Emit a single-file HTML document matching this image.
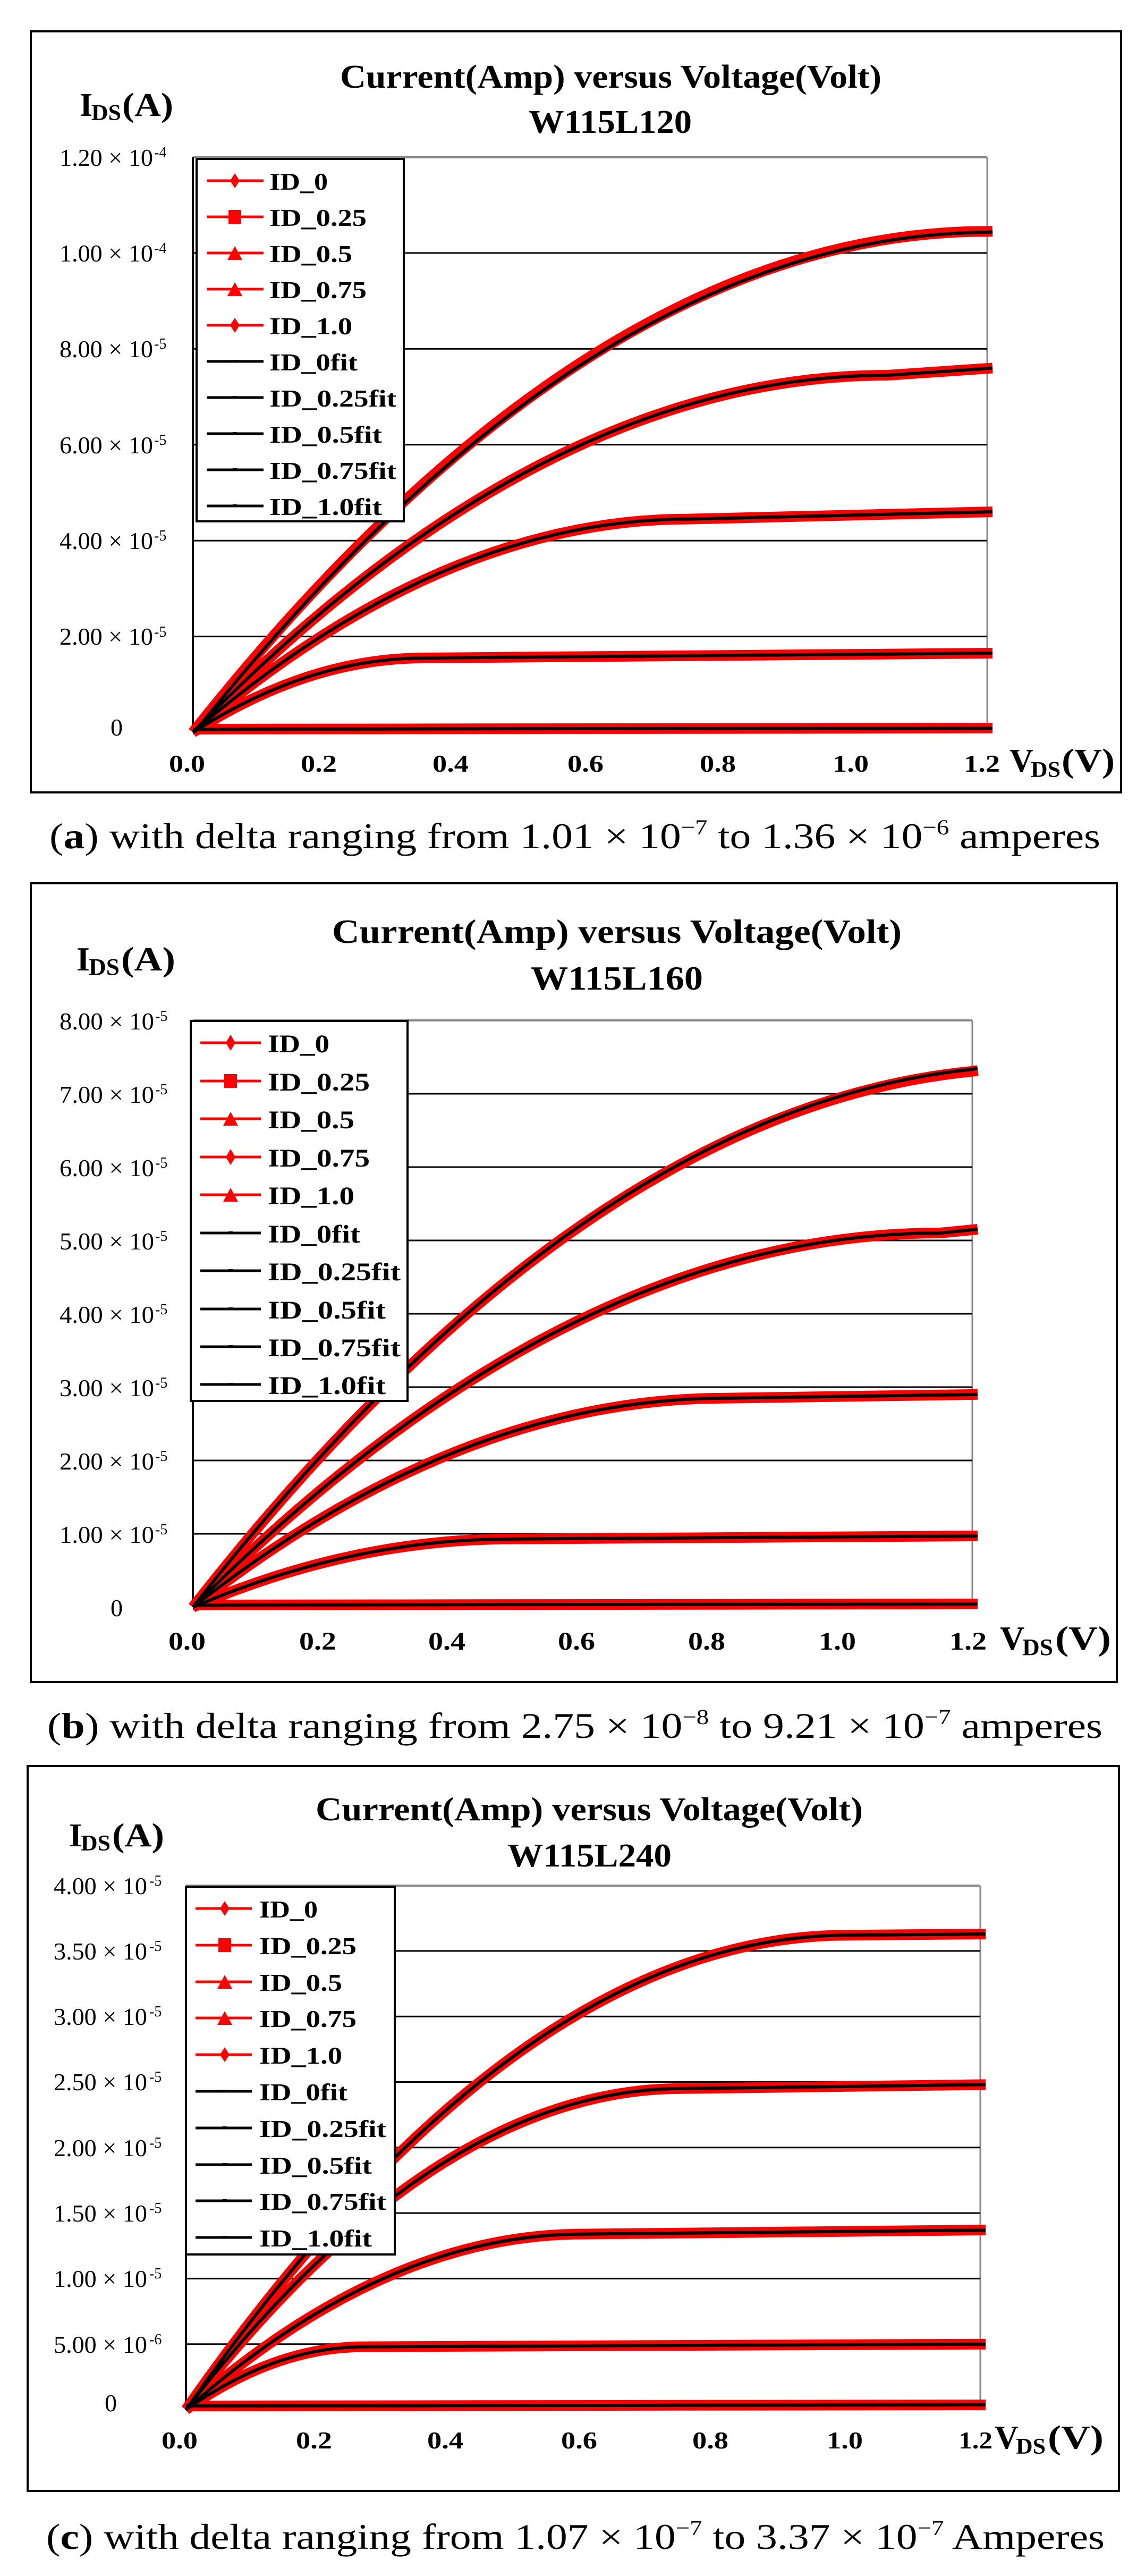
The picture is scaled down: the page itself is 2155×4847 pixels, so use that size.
<!DOCTYPE html>
<html><head><meta charset="utf-8"><style>
html,body{margin:0;padding:0;background:#fff;}
svg{display:block;}
.t{font-family:"Liberation Serif",serif;font-weight:bold;fill:#000;}
.n{font-family:"Liberation Serif",serif;fill:#000;}
.r{fill:none;stroke:#f00;stroke-width:20;stroke-linejoin:round;}
.k{fill:none;stroke:#000;stroke-width:6;}
.g{stroke:#000;stroke-width:3;}
</style></head><body>
<svg width="2155" height="4847" viewBox="0 0 2155 4847" xmlns="http://www.w3.org/2000/svg">
<rect width="2155" height="4847" fill="#fff"/>

<!-- ================= PANEL A ================= -->
<rect x="58" y="59" width="2052" height="1432" fill="none" stroke="#000" stroke-width="4"/>
<text class="t" x="640" y="165" font-size="62" textLength="1019" lengthAdjust="spacingAndGlyphs">Current(Amp) versus Voltage(Volt)</text>
<text class="t" x="995" y="250" font-size="62" textLength="307" lengthAdjust="spacingAndGlyphs">W115L120</text>
<text class="t" x="150" y="218" font-size="62">I</text><text class="t" x="172" y="226" font-size="42" textLength="56" lengthAdjust="spacingAndGlyphs">DS</text><text class="t" x="230" y="218" font-size="62" textLength="96" lengthAdjust="spacingAndGlyphs">(A)</text>
<!-- plot frame -->
<line x1="363" y1="296" x2="1858" y2="296" stroke="#888" stroke-width="4"/>
<line x1="1858" y1="296" x2="1858" y2="1378" stroke="#888" stroke-width="3"/>
<line x1="363" y1="296" x2="363" y2="1378" stroke="#000" stroke-width="4"/>
<g class="g"><line x1="363" y1="1197.6" x2="1858" y2="1197.6"/><line x1="363" y1="1017.2" x2="1858" y2="1017.2"/><line x1="363" y1="836.8" x2="1858" y2="836.8"/><line x1="363" y1="656.4" x2="1858" y2="656.4"/><line x1="363" y1="476" x2="1858" y2="476"/></g>
<!-- y labels -->
<g class="n" font-size="46">
<text x="112" y="312" textLength="176" lengthAdjust="spacingAndGlyphs">1.20 × 10</text><text x="290" y="296" font-size="28">-4</text>
<text x="112" y="492" textLength="176" lengthAdjust="spacingAndGlyphs">1.00 × 10</text><text x="290" y="476" font-size="28">-4</text>
<text x="112" y="672" textLength="176" lengthAdjust="spacingAndGlyphs">8.00 × 10</text><text x="290" y="656" font-size="28">-5</text>
<text x="112" y="853" textLength="176" lengthAdjust="spacingAndGlyphs">6.00 × 10</text><text x="290" y="837" font-size="28">-5</text>
<text x="112" y="1033" textLength="176" lengthAdjust="spacingAndGlyphs">4.00 × 10</text><text x="290" y="1017" font-size="28">-5</text>
<text x="112" y="1213" textLength="176" lengthAdjust="spacingAndGlyphs">2.00 × 10</text><text x="290" y="1198" font-size="28">-5</text>
<text x="208" y="1384">0</text>
</g>
<!-- curves -->
<path class="r" d="M363 1372 L1868 1370"/>
<path class="r" d="M363 1378 Q581 1238 799 1238 L1868 1229"/>
<path class="r" d="M363 1378 Q830 976.6 1297 976.6 L1868 963"/>
<path class="r" d="M363 1378 Q1017 706 1671 706 L1868 692.5"/>
<path class="r" d="M363 1378 Q1110.5 435.4 1858 435.4 L1868 435"/>
<path class="k" d="M363 1372 L1868 1370"/>
<path class="k" d="M363 1378 Q581 1238 799 1238 L1868 1229"/>
<path class="k" d="M363 1378 Q830 976.6 1297 976.6 L1868 963"/>
<path class="k" d="M363 1378 Q1017 706 1671 706 L1868 692.5"/>
<path class="k" d="M366 1378 Q1113 440 1860 437 L1868 436"/>
<!-- legend -->
<rect x="370" y="299" width="390" height="682" fill="#fff" stroke="#000" stroke-width="4"/>
<g stroke-width="5"><line x1="389" y1="340" x2="496" y2="340" stroke="#f00"/><line x1="389" y1="408" x2="496" y2="408" stroke="#f00"/><line x1="389" y1="476" x2="496" y2="476" stroke="#f00"/><line x1="389" y1="544" x2="496" y2="544" stroke="#f00"/><line x1="389" y1="612" x2="496" y2="612" stroke="#f00"/>
<line x1="389" y1="680" x2="496" y2="680" stroke="#000"/><line x1="389" y1="748" x2="496" y2="748" stroke="#000"/><line x1="389" y1="816" x2="496" y2="816" stroke="#000"/><line x1="389" y1="884" x2="496" y2="884" stroke="#000"/><line x1="389" y1="952" x2="496" y2="952" stroke="#000"/></g>
<g fill="#f00"><polygon points="442,326 451,340 442,354 433,340"/><rect x="430" y="395" width="24" height="26"/><polygon points="442,463 456,489 428,489"/><polygon points="442,531 456,557 428,557"/><polygon points="442,598 451,612 442,626 433,612"/></g>
<g fill="#000"><rect x="438" y="677" width="8" height="5"/><rect x="438" y="745" width="8" height="5"/><rect x="438" y="813" width="8" height="5"/><rect x="438" y="881" width="8" height="5"/><rect x="438" y="949" width="8" height="5"/></g>
<g class="t" font-size="46">
<text x="507" y="357" textLength="110" lengthAdjust="spacingAndGlyphs">ID_0</text>
<text x="507" y="425" textLength="183" lengthAdjust="spacingAndGlyphs">ID_0.25</text>
<text x="507" y="493" textLength="156" lengthAdjust="spacingAndGlyphs">ID_0.5</text>
<text x="507" y="561" textLength="183" lengthAdjust="spacingAndGlyphs">ID_0.75</text>
<text x="507" y="629" textLength="156" lengthAdjust="spacingAndGlyphs">ID_1.0</text>
<text x="507" y="697" textLength="166" lengthAdjust="spacingAndGlyphs">ID_0fit</text>
<text x="507" y="765" textLength="239" lengthAdjust="spacingAndGlyphs">ID_0.25fit</text>
<text x="507" y="833" textLength="212" lengthAdjust="spacingAndGlyphs">ID_0.5fit</text>
<text x="507" y="901" textLength="239" lengthAdjust="spacingAndGlyphs">ID_0.75fit</text>
<text x="507" y="969" textLength="212" lengthAdjust="spacingAndGlyphs">ID_1.0fit</text>
</g>
<!-- x labels -->
<g class="t" font-size="46" text-anchor="middle">
<text x="352" y="1452" textLength="68" lengthAdjust="spacingAndGlyphs">0.0</text>
<text x="600" y="1452" textLength="68" lengthAdjust="spacingAndGlyphs">0.2</text>
<text x="848" y="1452" textLength="68" lengthAdjust="spacingAndGlyphs">0.4</text>
<text x="1102" y="1452" textLength="68" lengthAdjust="spacingAndGlyphs">0.6</text>
<text x="1351" y="1452" textLength="68" lengthAdjust="spacingAndGlyphs">0.8</text>
<text x="1601" y="1452" textLength="68" lengthAdjust="spacingAndGlyphs">1.0</text>
<text x="1848" y="1452" textLength="68" lengthAdjust="spacingAndGlyphs">1.2</text>
</g>
<text class="t" x="1900" y="1452" font-size="62">V</text><text class="t" x="1940" y="1462" font-size="42" textLength="56" lengthAdjust="spacingAndGlyphs">DS</text><text class="t" x="1998" y="1452" font-size="62" textLength="100" lengthAdjust="spacingAndGlyphs">(V)</text>
<text class="n" x="93" y="1596" font-size="68" textLength="1978" lengthAdjust="spacingAndGlyphs">(<tspan font-weight="bold">a</tspan>) with delta ranging from 1.01 × 10<tspan font-size="40" dy="-26">−7</tspan><tspan dy="26"> to 1.36 × 10</tspan><tspan font-size="40" dy="-26">−6</tspan><tspan dy="26"> amperes</tspan></text>

<!-- ================= PANEL B ================= -->
<rect x="58" y="1662" width="2044" height="1503" fill="none" stroke="#000" stroke-width="4"/>
<text class="t" x="625" y="1774" font-size="64" textLength="1072" lengthAdjust="spacingAndGlyphs">Current(Amp) versus Voltage(Volt)</text>
<text class="t" x="999" y="1862" font-size="64" textLength="324" lengthAdjust="spacingAndGlyphs">W115L160</text>
<text class="t" x="144" y="1826" font-size="64">I</text><text class="t" x="167" y="1834" font-size="44" textLength="58" lengthAdjust="spacingAndGlyphs">DS</text><text class="t" x="228" y="1826" font-size="64" textLength="102" lengthAdjust="spacingAndGlyphs">(A)</text>
<line x1="363" y1="1920" x2="1830" y2="1920" stroke="#888" stroke-width="4"/>
<line x1="1830" y1="1920" x2="1830" y2="3024" stroke="#888" stroke-width="3"/>
<line x1="363" y1="1920" x2="363" y2="3024" stroke="#000" stroke-width="4"/>
<g class="g"><line x1="363" y1="2886" x2="1830" y2="2886"/><line x1="363" y1="2748" x2="1830" y2="2748"/><line x1="363" y1="2610" x2="1830" y2="2610"/><line x1="363" y1="2472" x2="1830" y2="2472"/><line x1="363" y1="2334" x2="1830" y2="2334"/><line x1="363" y1="2196" x2="1830" y2="2196"/><line x1="363" y1="2058" x2="1830" y2="2058"/></g>
<g class="n" font-size="46">
<text x="112" y="1937" textLength="178" lengthAdjust="spacingAndGlyphs">8.00 × 10</text><text x="292" y="1921" font-size="28">-5</text>
<text x="112" y="2075" textLength="178" lengthAdjust="spacingAndGlyphs">7.00 × 10</text><text x="292" y="2059" font-size="28">-5</text>
<text x="112" y="2213" textLength="178" lengthAdjust="spacingAndGlyphs">6.00 × 10</text><text x="292" y="2197" font-size="28">-5</text>
<text x="112" y="2351" textLength="178" lengthAdjust="spacingAndGlyphs">5.00 × 10</text><text x="292" y="2335" font-size="28">-5</text>
<text x="112" y="2489" textLength="178" lengthAdjust="spacingAndGlyphs">4.00 × 10</text><text x="292" y="2473" font-size="28">-5</text>
<text x="112" y="2627" textLength="178" lengthAdjust="spacingAndGlyphs">3.00 × 10</text><text x="292" y="2611" font-size="28">-5</text>
<text x="112" y="2765" textLength="178" lengthAdjust="spacingAndGlyphs">2.00 × 10</text><text x="292" y="2749" font-size="28">-5</text>
<text x="112" y="2903" textLength="178" lengthAdjust="spacingAndGlyphs">1.00 × 10</text><text x="292" y="2887" font-size="28">-5</text>
<text x="208" y="3041">0</text>
</g>
<path class="r" d="M363 3020 L1840 3018"/>
<path class="r" d="M363 3024 Q662.5 2895.7 962 2895.7 L1840 2890"/>
<path class="r" d="M363 3024 Q864 2630.7 1365.5 2630.7 L1840 2623.8"/>
<path class="r" d="M363 3024 Q1066 2320 1769 2320 L1840 2313"/>
<path class="r" d="M363 3024 Q1096.5 2087.7 1830 2015.8 L1840 2014"/>
<path class="k" d="M363 3020 L1840 3018"/>
<path class="k" d="M363 3024 Q662.5 2895.7 962 2895.7 L1840 2890"/>
<path class="k" d="M363 3024 Q864 2630.7 1365.5 2630.7 L1840 2623.8"/>
<path class="k" d="M363 3024 Q1066 2320 1769 2320 L1840 2313"/>
<path class="k" d="M363 3024 Q1096.5 2087.7 1830 2012 L1840 2010"/>
<rect x="359" y="1921" width="408" height="715" fill="#fff" stroke="#000" stroke-width="4"/>
<g stroke-width="5"><line x1="377" y1="1962" x2="491" y2="1962" stroke="#f00"/><line x1="377" y1="2034" x2="491" y2="2034" stroke="#f00"/><line x1="377" y1="2105" x2="491" y2="2105" stroke="#f00"/><line x1="377" y1="2177" x2="491" y2="2177" stroke="#f00"/><line x1="377" y1="2248" x2="491" y2="2248" stroke="#f00"/>
<line x1="377" y1="2320" x2="491" y2="2320" stroke="#000"/><line x1="377" y1="2391" x2="491" y2="2391" stroke="#000"/><line x1="377" y1="2463" x2="491" y2="2463" stroke="#000"/><line x1="377" y1="2534" x2="491" y2="2534" stroke="#000"/><line x1="377" y1="2605" x2="491" y2="2605" stroke="#000"/></g>
<g fill="#f00"><polygon points="434,1947 443,1962 434,1977 425,1962"/><rect x="422" y="2021" width="24" height="26"/><polygon points="434,2092 448,2118 420,2118"/><polygon points="434,2162 443,2177 434,2192 425,2177"/><polygon points="434,2235 448,2261 420,2261"/></g>
<g fill="#000"><rect x="430" y="2317" width="8" height="5"/><rect x="430" y="2388" width="8" height="5"/><rect x="430" y="2460" width="8" height="5"/><rect x="430" y="2531" width="8" height="5"/><rect x="430" y="2602" width="8" height="5"/></g>
<g class="t" font-size="48">
<text x="504" y="1980" textLength="116" lengthAdjust="spacingAndGlyphs">ID_0</text>
<text x="504" y="2052" textLength="192" lengthAdjust="spacingAndGlyphs">ID_0.25</text>
<text x="504" y="2123" textLength="163" lengthAdjust="spacingAndGlyphs">ID_0.5</text>
<text x="504" y="2195" textLength="192" lengthAdjust="spacingAndGlyphs">ID_0.75</text>
<text x="504" y="2266" textLength="163" lengthAdjust="spacingAndGlyphs">ID_1.0</text>
<text x="504" y="2338" textLength="174" lengthAdjust="spacingAndGlyphs">ID_0fit</text>
<text x="504" y="2409" textLength="250" lengthAdjust="spacingAndGlyphs">ID_0.25fit</text>
<text x="504" y="2481" textLength="222" lengthAdjust="spacingAndGlyphs">ID_0.5fit</text>
<text x="504" y="2552" textLength="250" lengthAdjust="spacingAndGlyphs">ID_0.75fit</text>
<text x="504" y="2623" textLength="222" lengthAdjust="spacingAndGlyphs">ID_1.0fit</text>
</g>
<g class="t" font-size="48" text-anchor="middle">
<text x="352" y="3104" textLength="70" lengthAdjust="spacingAndGlyphs">0.0</text>
<text x="598" y="3104" textLength="70" lengthAdjust="spacingAndGlyphs">0.2</text>
<text x="841" y="3104" textLength="70" lengthAdjust="spacingAndGlyphs">0.4</text>
<text x="1085" y="3104" textLength="70" lengthAdjust="spacingAndGlyphs">0.6</text>
<text x="1330" y="3104" textLength="70" lengthAdjust="spacingAndGlyphs">0.8</text>
<text x="1576" y="3104" textLength="70" lengthAdjust="spacingAndGlyphs">1.0</text>
<text x="1822" y="3104" textLength="70" lengthAdjust="spacingAndGlyphs">1.2</text>
</g>
<text class="t" x="1882" y="3104" font-size="64">V</text><text class="t" x="1924" y="3114" font-size="44" textLength="58" lengthAdjust="spacingAndGlyphs">DS</text><text class="t" x="1986" y="3104" font-size="64" textLength="105" lengthAdjust="spacingAndGlyphs">(V)</text>
<text class="n" x="89" y="3270" font-size="68" textLength="1986" lengthAdjust="spacingAndGlyphs">(<tspan font-weight="bold">b</tspan>) with delta ranging from 2.75 × 10<tspan font-size="40" dy="-26">−8</tspan><tspan dy="26"> to 9.21 × 10</tspan><tspan font-size="40" dy="-26">−7</tspan><tspan dy="26"> amperes</tspan></text>

<!-- ================= PANEL C ================= -->
<rect x="52" y="3323" width="2054" height="1364" fill="none" stroke="#000" stroke-width="4"/>
<text class="t" x="594" y="3425" font-size="62" textLength="1030" lengthAdjust="spacingAndGlyphs">Current(Amp) versus Voltage(Volt)</text>
<text class="t" x="955" y="3512" font-size="62" textLength="309" lengthAdjust="spacingAndGlyphs">W115L240</text>
<text class="t" x="130" y="3474" font-size="62">I</text><text class="t" x="152" y="3482" font-size="42" textLength="56" lengthAdjust="spacingAndGlyphs">DS</text><text class="t" x="211" y="3474" font-size="62" textLength="98" lengthAdjust="spacingAndGlyphs">(A)</text>
<line x1="350" y1="3548" x2="1845" y2="3548" stroke="#888" stroke-width="4"/>
<line x1="1845" y1="3548" x2="1845" y2="4534" stroke="#888" stroke-width="3"/>
<line x1="350" y1="3548" x2="350" y2="4534" stroke="#000" stroke-width="4"/>
<g class="g"><line x1="350" y1="4410.7" x2="1845" y2="4410.7"/><line x1="350" y1="4287.4" x2="1845" y2="4287.4"/><line x1="350" y1="4164.1" x2="1845" y2="4164.1"/><line x1="350" y1="4040.8" x2="1845" y2="4040.8"/><line x1="350" y1="3917.5" x2="1845" y2="3917.5"/><line x1="350" y1="3794.2" x2="1845" y2="3794.2"/><line x1="350" y1="3670.9" x2="1845" y2="3670.9"/></g>
<g class="n" font-size="46">
<text x="101" y="3564" textLength="176" lengthAdjust="spacingAndGlyphs">4.00 × 10</text><text x="281" y="3548" font-size="28">-5</text>
<text x="101" y="3687" textLength="176" lengthAdjust="spacingAndGlyphs">3.50 × 10</text><text x="281" y="3671" font-size="28">-5</text>
<text x="101" y="3810" textLength="176" lengthAdjust="spacingAndGlyphs">3.00 × 10</text><text x="281" y="3794" font-size="28">-5</text>
<text x="101" y="3933" textLength="176" lengthAdjust="spacingAndGlyphs">2.50 × 10</text><text x="281" y="3917" font-size="28">-5</text>
<text x="101" y="4057" textLength="176" lengthAdjust="spacingAndGlyphs">2.00 × 10</text><text x="281" y="4041" font-size="28">-5</text>
<text x="101" y="4180" textLength="176" lengthAdjust="spacingAndGlyphs">1.50 × 10</text><text x="281" y="4164" font-size="28">-5</text>
<text x="101" y="4303" textLength="176" lengthAdjust="spacingAndGlyphs">1.00 × 10</text><text x="281" y="4287" font-size="28">-5</text>
<text x="101" y="4427" textLength="176" lengthAdjust="spacingAndGlyphs">5.00 × 10</text><text x="281" y="4411" font-size="28">-6</text>
<text x="197" y="4537">0</text>
</g>
<path class="r" d="M350 4527 L1855 4525"/>
<path class="r" d="M350 4534 Q518 4415.6 686 4415.6 L1855 4410.7"/>
<path class="r" d="M350 4534 Q723.7 4203.6 1097.5 4203.6 L1855 4196"/>
<path class="r" d="M350 4534 Q817 3929.8 1284 3929.8 L1855 3922.4"/>
<path class="r" d="M350 4534 Q973 3641.3 1595.8 3641.3 L1855 3639"/>
<path class="k" d="M350 4527 L1855 4525"/>
<path class="k" d="M350 4534 Q518 4415.6 686 4415.6 L1855 4410.7"/>
<path class="k" d="M350 4534 Q723.7 4203.6 1097.5 4203.6 L1855 4196"/>
<path class="k" d="M350 4534 Q817 3929.8 1284 3929.8 L1855 3922.4"/>
<path class="k" d="M350 4534 Q973 3641.3 1595.8 3641.3 L1855 3639"/>
<rect x="350" y="3550" width="393" height="692" fill="#fff" stroke="#000" stroke-width="4"/>
<g stroke-width="5"><line x1="368" y1="3591" x2="474" y2="3591" stroke="#f00"/><line x1="368" y1="3660" x2="474" y2="3660" stroke="#f00"/><line x1="368" y1="3729" x2="474" y2="3729" stroke="#f00"/><line x1="368" y1="3797" x2="474" y2="3797" stroke="#f00"/><line x1="368" y1="3866" x2="474" y2="3866" stroke="#f00"/>
<line x1="368" y1="3935" x2="474" y2="3935" stroke="#000"/><line x1="368" y1="4004" x2="474" y2="4004" stroke="#000"/><line x1="368" y1="4073" x2="474" y2="4073" stroke="#000"/><line x1="368" y1="4141" x2="474" y2="4141" stroke="#000"/><line x1="368" y1="4210" x2="474" y2="4210" stroke="#000"/></g>
<g fill="#f00"><polygon points="423,3577 432,3591 423,3605 414,3591"/><rect x="411" y="3647" width="24" height="26"/><polygon points="423,3716 437,3742 409,3742"/><polygon points="423,3784 437,3810 409,3810"/><polygon points="423,3852 432,3866 423,3880 414,3866"/></g>
<g fill="#000"><rect x="419" y="3932" width="8" height="5"/><rect x="419" y="4001" width="8" height="5"/><rect x="419" y="4070" width="8" height="5"/><rect x="419" y="4138" width="8" height="5"/><rect x="419" y="4207" width="8" height="5"/></g>
<g class="t" font-size="46">
<text x="488" y="3608" textLength="110" lengthAdjust="spacingAndGlyphs">ID_0</text>
<text x="488" y="3677" textLength="183" lengthAdjust="spacingAndGlyphs">ID_0.25</text>
<text x="488" y="3746" textLength="156" lengthAdjust="spacingAndGlyphs">ID_0.5</text>
<text x="488" y="3814" textLength="183" lengthAdjust="spacingAndGlyphs">ID_0.75</text>
<text x="488" y="3883" textLength="156" lengthAdjust="spacingAndGlyphs">ID_1.0</text>
<text x="488" y="3952" textLength="166" lengthAdjust="spacingAndGlyphs">ID_0fit</text>
<text x="488" y="4021" textLength="239" lengthAdjust="spacingAndGlyphs">ID_0.25fit</text>
<text x="488" y="4090" textLength="212" lengthAdjust="spacingAndGlyphs">ID_0.5fit</text>
<text x="488" y="4158" textLength="239" lengthAdjust="spacingAndGlyphs">ID_0.75fit</text>
<text x="488" y="4227" textLength="212" lengthAdjust="spacingAndGlyphs">ID_1.0fit</text>
</g>
<g class="t" font-size="46" text-anchor="middle">
<text x="338" y="4607" textLength="68" lengthAdjust="spacingAndGlyphs">0.0</text>
<text x="591" y="4607" textLength="68" lengthAdjust="spacingAndGlyphs">0.2</text>
<text x="838" y="4607" textLength="68" lengthAdjust="spacingAndGlyphs">0.4</text>
<text x="1090" y="4607" textLength="68" lengthAdjust="spacingAndGlyphs">0.6</text>
<text x="1337" y="4607" textLength="68" lengthAdjust="spacingAndGlyphs">0.8</text>
<text x="1590" y="4607" textLength="68" lengthAdjust="spacingAndGlyphs">1.0</text>
</g>
<text class="t" x="1804" y="4607" font-size="46" textLength="64" lengthAdjust="spacingAndGlyphs">1.2</text>
<text class="t" x="1872" y="4607" font-size="62">V</text><text class="t" x="1912" y="4617" font-size="42" textLength="56" lengthAdjust="spacingAndGlyphs">DS</text><text class="t" x="1972" y="4607" font-size="62" textLength="105" lengthAdjust="spacingAndGlyphs">(V)</text>
<text class="n" x="87" y="4796" font-size="68" textLength="1992" lengthAdjust="spacingAndGlyphs">(<tspan font-weight="bold">c</tspan>) with delta ranging from 1.07 × 10<tspan font-size="40" dy="-26">−7</tspan><tspan dy="26"> to 3.37 × 10</tspan><tspan font-size="40" dy="-26">−7</tspan><tspan dy="26"> Amperes</tspan></text>
</svg>
</body></html>
